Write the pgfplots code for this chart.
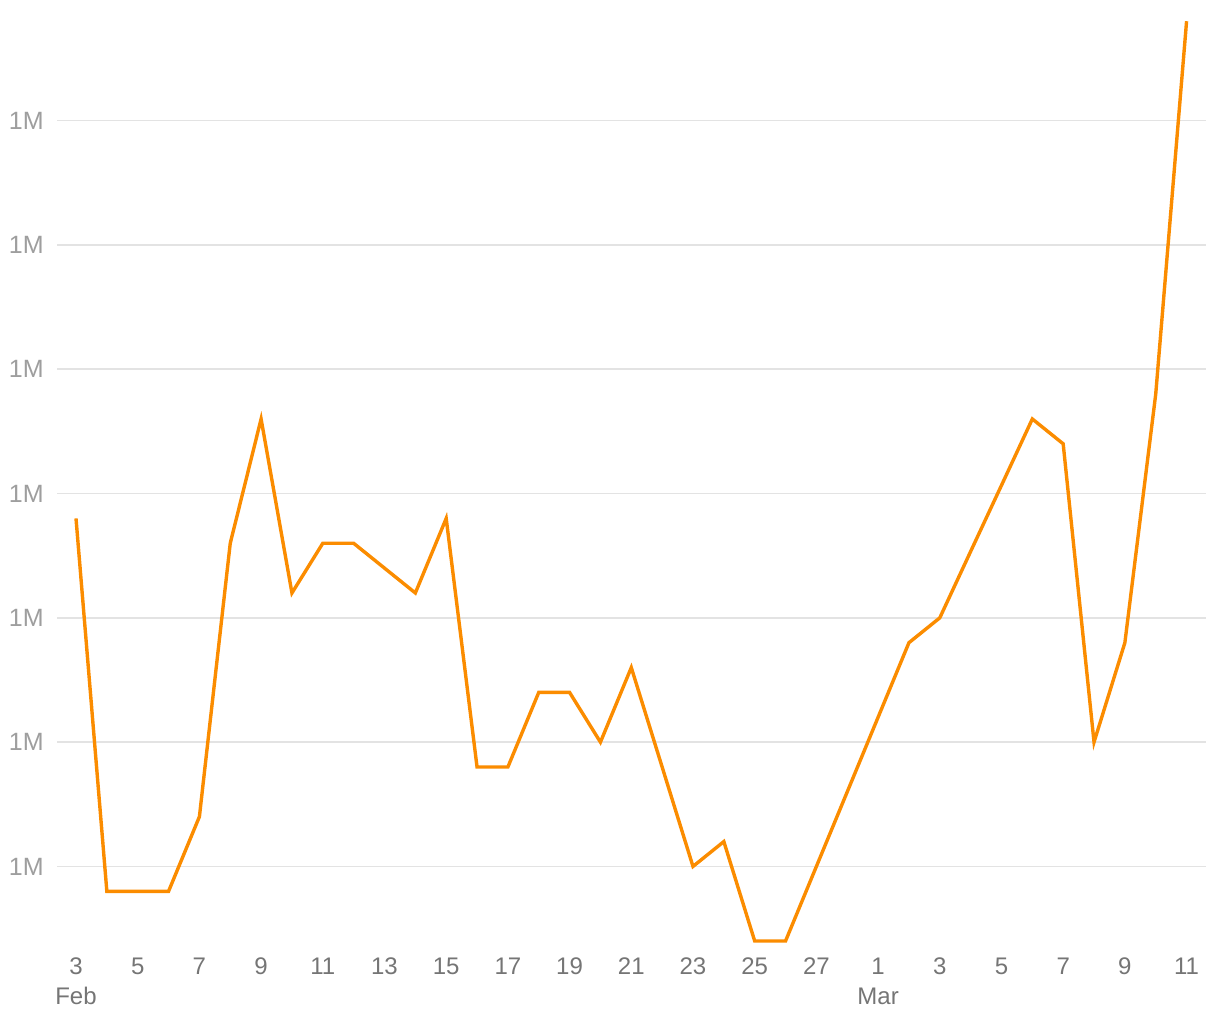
\documentclass[border=0pt]{standalone}
\usepackage{pgfplots}
\pgfplotsset{compat=1.18}
\usepackage{fontspec}
\setmainfont{Liberation Sans}
\definecolor{lineor}{HTML}{FB8C00}
\definecolor{gridg}{HTML}{E3E3E3}
\definecolor{ylab}{HTML}{9E9E9E}
\definecolor{xlab}{HTML}{757575}
\begin{document}
\begin{tikzpicture}[x=0.5pt,y=0.5pt]
\useasboundingbox (0,0) rectangle (1220,1020);
\begin{axis}[
  at={(28.5pt,36.75pt)}, anchor=south west,
  scale only axis, width=574.5pt, height=465pt,
  xmin=-0.616, xmax=36.63,
  ymin=-3.22, ymax=34.19,
  axis line style={draw=none},
  major tick length=0pt,
  xtick={0,2,...,36},
  xticklabels={{3\\Feb},5,7,9,11,13,15,17,19,21,23,25,27,{1\\Mar},3,5,7,9,11},
  ytick={0,5,10,15,20,25,30},
  yticklabels={1M,1M,1M,1M,1M,1M,1M},
  ymajorgrids=true,
  grid style={draw=gridg, line width=0.75pt},
  x tick label style={font=\fontsize{12}{15}\selectfont, text=xlab, align=center, anchor=north, yshift=-5.5pt, inner sep=0pt},
  y tick label style={font=\fontsize{12.5}{15}\selectfont, text=ylab, anchor=east, xshift=-6.5pt, inner sep=0pt},
  clip=false,
]
\addplot[color=lineor, line width=1.7pt, line join=miter, mark=none] coordinates {
(0,14) (1,-1) (2,-1) (3,-1) (4,2) (5,13) (6,18) (7,11) (8,13) (9,13)
(10,12) (11,11) (12,14) (13,4) (14,4) (15,7) (16,7) (17,5) (18,8) (19,4)
(20,0) (21,1) (22,-3) (23,-3) (24,0) (25,3) (26,6) (27,9) (28,10) (29,12.67)
(30,15.33) (31,18) (32,17) (33,5) (34,9) (35,19) (36,34)
};
\end{axis}
\end{tikzpicture}
\end{document}
